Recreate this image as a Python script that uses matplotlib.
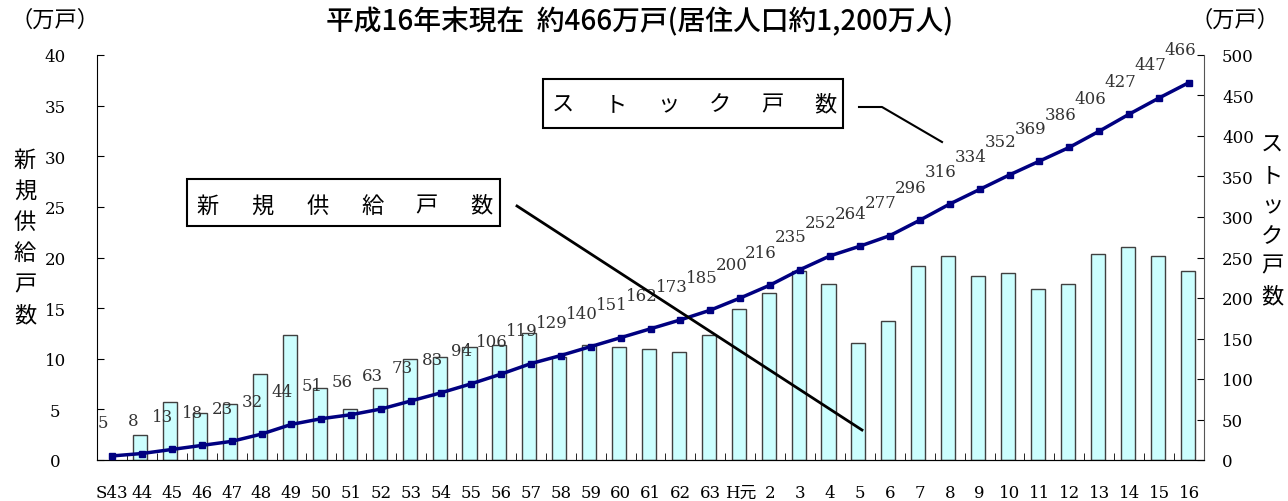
import numpy as np
import matplotlib.pyplot as plt
from matplotlib.patches import Rectangle
from matplotlib.lines import Line2D

plt.rcParams['font.family'] = ['DejaVu Serif', 'Noto Sans CJK JP']

years = ['S43', '44', '45', '46', '47', '48', '49', '50', '51', '52', '53', '54',
         '55', '56', '57', '58', '59', '60', '61', '62', '63', 'H元', '2', '3',
         '4', '5', '6', '7', '8', '9', '10', '11', '12', '13', '14', '15', '16']
new_supply = [0, 2.5, 5.7, 4.6, 5.5, 8.5, 12.3, 7.1, 5.0, 7.1, 10.0, 10.2,
              11.2, 11.4, 12.5, 10.2, 11.4, 11.2, 11.0, 10.7, 12.3, 14.9, 16.5, 18.7,
              17.4, 11.6, 13.7, 19.2, 20.1, 18.2, 18.5, 16.9, 17.4, 20.3, 21.0, 20.1, 18.7]
stock = [5, 8, 13, 18, 23, 32, 44, 51, 56, 63, 73, 83,
         94, 106, 119, 129, 140, 151, 162, 173, 185, 200, 216, 235,
         252, 264, 277, 296, 316, 334, 352, 369, 386, 406, 427, 447, 466]

W, H = 1288, 502
fig = plt.figure(figsize=(W / 100, H / 100), dpi=100)
ax = fig.add_axes([97 / W, 41 / H, 1107 / W, 405 / H])
ax2 = ax.twinx()

x = np.arange(len(years))
nz = [i for i, v in enumerate(new_supply) if v > 0]
ax.bar(x[nz] - 0.05, [new_supply[i] for i in nz], width=0.47, color='#CCFFFF',
       edgecolor='#404040', linewidth=1.0, zorder=2)
ax.set_xlim(-0.5, len(years) - 0.5)
ax.set_ylim(0, 40)
ax.set_yticks(range(0, 41, 5))
ax.set_xticks(x)
ax.set_xticklabels(years)
ax.set_xticks(np.arange(0.5, len(years) - 1, 1), minor=True)
ax.tick_params(axis='x', which='major', length=0, pad=17, labelsize=12)
ax.tick_params(axis='x', which='minor', direction='in', length=5)
ax.tick_params(axis='y', direction='in', length=5, pad=30, labelsize=12)
for lab in ax.get_yticklabels():
    lab.set_horizontalalignment('center')

ax2.plot(x, stock, color='#000080', linewidth=2.5, marker='s', markersize=4, zorder=3)
ax2.set_ylim(0, 500)
ax2.set_yticks(range(0, 501, 50))
ax2.tick_params(axis='y', direction='in', length=5, pad=13, labelsize=12)
for xi, v in zip(x, stock):
    ax2.annotate(str(v), (xi, v), xytext=(-9, 33), textcoords='offset pixels',
                 ha='center', va='center', fontsize=12, color='#333333')

for a in (ax, ax2):
    a.spines['top'].set_visible(False)
ax.spines['right'].set_visible(False)
ax2.spines['left'].set_visible(False)
ax2.spines['right'].set_color('#555555')

cjk = ['Noto Sans CJK JP', 'DejaVu Sans']
fig.text(640 / W, 1 - 22 / H, '平成16年末現在  約466万戸(居住人口約1,200万人)',
         ha='center', va='center', fontsize=20, family=cjk, weight='medium')
fig.text(55 / W, 1 - 20 / H, '（万戸）', ha='center', va='center', fontsize=16, family=cjk)
fig.text(1235 / W, 1 - 20 / H, '（万戸）', ha='center', va='center', fontsize=16, family=cjk)
fig.text(25 / W, 1 - 238 / H, '\n'.join('新規供給戸数'), ha='center', va='center',
         fontsize=16, family=cjk, linespacing=1.45)
fig.text(1272 / W, 1 - 221 / H, '\n'.join('ストック戸数'), ha='center', va='center',
         fontsize=16, family=cjk, linespacing=1.4)

# callout boxes
fig.patches.append(Rectangle((543 / W, 1 - 129 / H), 300 / W, 49 / H, transform=fig.transFigure,
                             fill=False, edgecolor='black', linewidth=1.5))
for k, ch in enumerate('ストック戸数'):
    fig.text((563 + 52.4 * k) / W, 1 - 105 / H, ch, ha='center', va='center',
             fontsize=16, family=cjk)
fig.lines.append(Line2D([859 / W, 882 / W, 942 / W], [1 - 108 / H, 1 - 108 / H, 1 - 143 / H],
                        transform=fig.transFigure, color='black', linewidth=1.5))

fig.patches.append(Rectangle((187 / W, 1 - 227 / H), 313 / W, 47 / H, transform=fig.transFigure,
                             fill=False, edgecolor='black', linewidth=1.5))
for k, ch in enumerate('新規供給戸数'):
    fig.text((208 + 54.7 * k) / W, 1 - 206 / H, ch, ha='center', va='center',
             fontsize=16, family=cjk)
fig.lines.append(Line2D([517 / W, 862 / W], [1 - 207 / H, 1 - 431 / H],
                        transform=fig.transFigure, color='black', linewidth=2))

fig.savefig('out.png', dpi=100)
